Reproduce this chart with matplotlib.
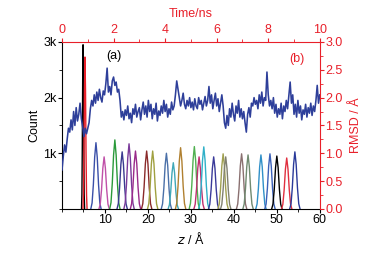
import numpy as np
import matplotlib
matplotlib.use("Agg")
import matplotlib.pyplot as plt
from matplotlib.ticker import MultipleLocator

plt.rcParams['font.family'] = ['Liberation Sans', 'DejaVu Sans']
plt.rcParams['font.size'] = 8

RED = "#e8202a"
BLUE = "#2e3f9a"

# z-distribution peaks (centre in A, height in counts, colour)
peak_z = [4.9, 5.35, 7.9, 9.8, 12.3, 14.0, 15.6, 17.1, 19.7, 21.1, 24.3, 25.9, 27.6,
          30.8, 31.9, 33.0, 35.3, 37.5, 38.1, 41.8, 43.3, 46.3, 48.4, 50.0, 52.3, 54.2]
peak_h = [2950, 2730, 1190, 935, 1240, 1025, 1170, 1040, 1040, 1040, 1000, 830, 1100,
          1120, 935, 1115, 935, 990, 935, 990, 970, 970, 990, 950, 915, 1025]
peak_w = [0.3, 0.4] + [1.0] * 24
peak_c = ["#000000", RED, "#3a4fa8", "#c050a8", "#2a9a3a", "#3a3a90", "#7a3a9a", "#9a2a8a",
          "#8a2a2a", "#a0a040", "#4a70a8", "#40a8b8", "#b08030", "#50b050", "#c03070",
          "#30b0c8", "#3a3a9a", "#a0a050", "#808070", "#8a7070", "#708a70", "#3090c8",
          "#3a60b8", "#000000", "#e03040", "#2a3a9a"]
# common histogram shape (offset in A, relative height)
prof_dz = [-1.2, -0.9, -0.6, -0.3, 0.0, 0.3, 0.6, 0.9, 1.2]
prof_v = [0.0, 0.09, 0.37, 0.78, 1.0, 0.78, 0.37, 0.09, 0.0]

# RMSD trace, 0-10 ns
rmsd = [
    0.70, 0.95, 1.15, 1.02, 1.25, 1.45, 1.38, 1.60, 1.42, 1.75, 1.50, 1.82, 1.58, 1.70, 1.90, 1.62, 1.48, 1.30, 1.45, 1.35,
    1.45, 1.55, 1.80, 1.95, 1.85, 2.05, 1.90, 2.10, 1.95, 2.15, 2.00, 1.92, 2.12, 2.05, 2.25, 2.53, 2.10, 2.20, 2.05, 2.30,
    2.37, 2.22, 2.28, 2.10, 2.15, 1.95, 1.65, 1.75, 1.60, 1.78, 1.68, 1.85, 1.62, 1.72, 1.55, 1.80, 1.70, 1.88, 1.65, 1.75,
    1.82, 1.60, 1.78, 1.92, 1.70, 1.85, 1.65, 1.95, 1.75, 1.88, 1.62, 1.80, 1.70, 1.90, 1.58, 1.76, 1.68, 1.85, 1.72, 1.95,
    1.75, 1.88, 1.65, 1.80, 1.70, 1.92, 1.78, 1.85, 2.05, 2.30, 2.15, 2.00, 1.85, 1.95, 2.08, 1.88, 1.80, 1.95, 1.85, 2.00,
    1.82, 1.92, 1.78, 1.98, 1.85, 1.80, 2.00, 1.88, 1.95, 1.78, 1.90, 2.02, 1.85, 1.95, 2.20, 1.90, 2.05, 1.80, 1.95, 2.08,
    1.85, 1.98, 1.75, 1.90, 2.05, 1.85, 1.55, 1.45, 1.68, 1.50, 1.80, 1.65, 1.90, 1.70, 1.58, 1.85, 1.72, 1.95, 1.65, 1.80,
    1.62, 1.75, 1.55, 1.38, 1.70, 1.82, 1.65, 1.90, 1.85, 2.00, 1.88, 1.95, 1.80, 2.05, 1.90, 2.10, 1.85, 2.00, 1.95, 2.46,
    2.05, 1.85, 1.95, 1.80, 2.00, 1.72, 1.88, 1.65, 1.80, 1.70, 1.90, 1.62, 1.85, 1.75, 1.95, 1.80, 2.05, 2.28, 1.90, 2.05,
    1.70, 1.88, 1.65, 1.95, 1.72, 1.85, 1.60, 1.78, 1.70, 1.88, 1.65, 1.82, 1.72, 1.90, 1.68, 1.85, 1.75, 1.95, 2.22, 1.90, 2.05,
]
time_ns = np.linspace(0, 10, len(rmsd))

fig = plt.figure(figsize=(3.9, 2.56), dpi=100)
pos = [0.159, 0.184, 0.661, 0.652]
ax = fig.add_axes(pos)

for z0, h, w, c in zip(peak_z, peak_h, peak_w, peak_c):
    zz = z0 + np.array(prof_dz) * w
    ax.plot(zz, h * np.array(prof_v), color=c, lw=1.0)

ax.set_xlim(0, 60)
ax.set_ylim(0, 3000)
ax.set_xticks([10, 20, 30, 40, 50, 60])
ax.xaxis.set_minor_locator(MultipleLocator(5))
ax.set_yticks([1000, 2000, 3000])
ax.set_yticklabels(["1k", "2k", "3k"])
ax.yaxis.set_minor_locator(MultipleLocator(500))
ax.tick_params(which='both', direction='out', labelsize=9, pad=1)
ax.tick_params(which='major', length=3)
ax.tick_params(which='minor', length=2)
ax.spines['top'].set_visible(False)
ax.spines['right'].set_visible(False)
ax.set_xlabel(r"$z$ / Å", fontsize=9, labelpad=3)
ax.set_ylabel("Count", fontsize=9, labelpad=2)
ax.text(0.17, 0.9, "(a)", transform=ax.transAxes, fontsize=9)

ax2 = fig.add_axes(pos, facecolor="none")
ax2.plot(time_ns, rmsd, color=BLUE, lw=1.15)
ax2.set_xlim(0, 10)
ax2.set_ylim(0, 3)
ax2.xaxis.tick_top()
ax2.xaxis.set_label_position('top')
ax2.yaxis.tick_right()
ax2.yaxis.set_label_position('right')
ax2.set_xticks([0, 2, 4, 6, 8, 10])
ax2.xaxis.set_minor_locator(MultipleLocator(1))
ax2.set_yticks(np.arange(0, 3.01, 0.5))
ax2.set_yticklabels(["0.0", "0.5", "1.0", "1.5", "2.0", "2.5", "3.0"])
ax2.yaxis.set_minor_locator(MultipleLocator(0.25))
ax2.tick_params(which='both', direction='out', colors=RED, labelsize=9, pad=1)
ax2.tick_params(which='major', length=3)
ax2.tick_params(which='minor', length=2)
ax2.spines['left'].set_visible(False)
ax2.spines['bottom'].set_visible(False)
ax2.spines['top'].set_color(RED)
ax2.spines['right'].set_color(RED)
ax2.set_xlabel("Time/ns", color=RED, fontsize=9, labelpad=5)
ax2.set_ylabel("RMSD / Å", color=RED, fontsize=9, labelpad=5)
ax2.text(0.88, 0.88, "(b)", transform=ax2.transAxes, color=RED, fontsize=9)

fig.savefig("out.png", dpi=100)
